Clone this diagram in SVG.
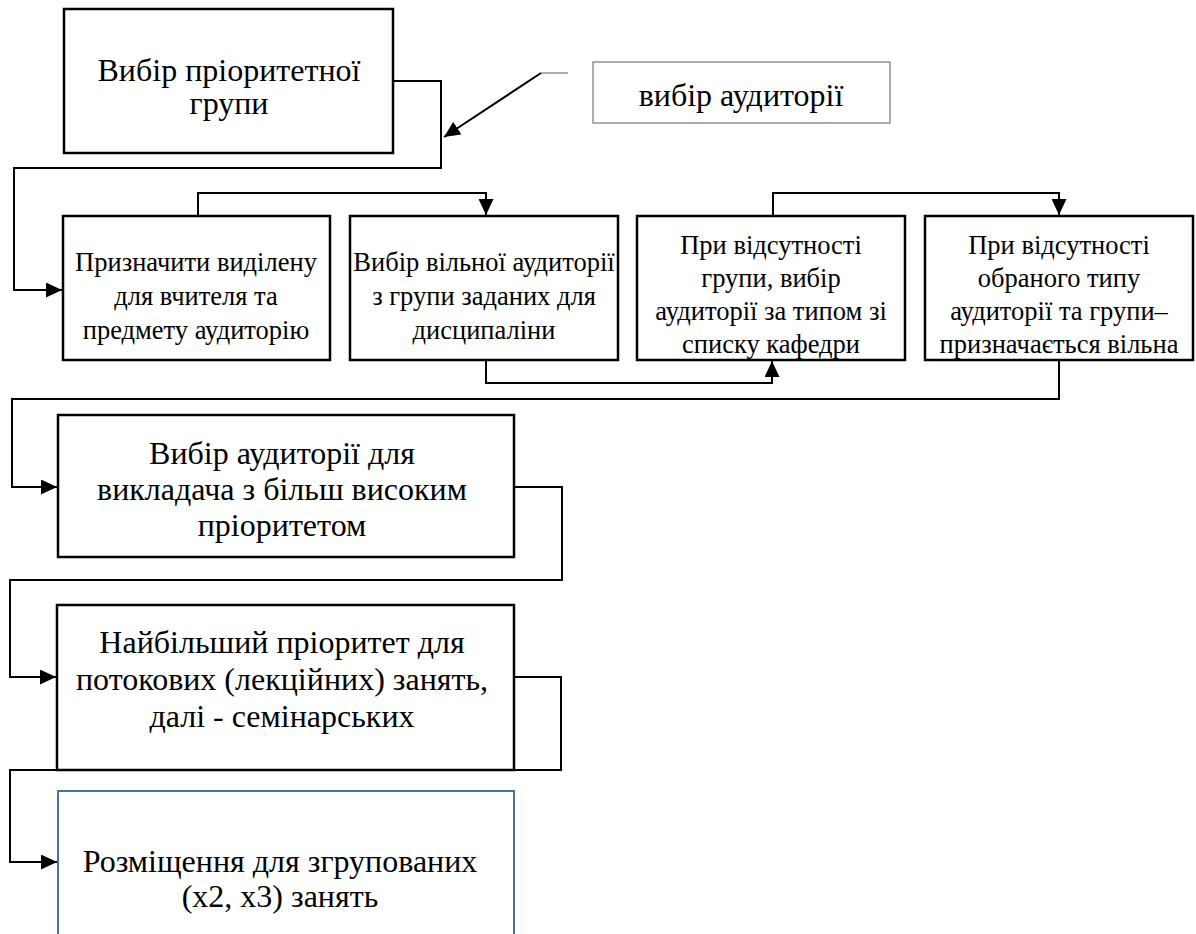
<svg xmlns="http://www.w3.org/2000/svg" width="1196" height="934" viewBox="0 0 1196 934">
<defs>
<marker id="arr" viewBox="0 0 16 15" refX="16" refY="7.5" markerWidth="16" markerHeight="15" markerUnits="userSpaceOnUse" orient="auto">
<path d="M0,0 L16,7.5 L0,15 Z" fill="#000"/>
</marker>
</defs>
<style>
.box{fill:#fff;stroke:#000;stroke-width:2.5}
.thin{fill:#fff;stroke:#808080;stroke-width:1.3}
.blue{fill:#fff;stroke:#4a6ea8;stroke-width:2}
.c{fill:none;stroke:#000;stroke-width:2}
text{fill:#000;text-anchor:middle;font-family:'Liberation Serif','Times New Roman',serif}
.l{font-size:32px}
.s{font-size:26.5px}
</style>
<rect width="1196" height="934" fill="#fff"/>
<g id="connectors">
<path class="c" d="M393,81 H441 V168 H14 V290 H62" marker-end="url(#arr)"/>
<path d="M568,73 H541" fill="none" stroke="#808080" stroke-width="1.3"/>
<path class="c" d="M541,73 L444,137" marker-end="url(#arr)"/>
<path class="c" d="M198,216 V193 H486 V215" marker-end="url(#arr)"/>
<path class="c" d="M486,360 V383 H772 V361" marker-end="url(#arr)"/>
<path class="c" d="M773,216 V193 H1059 V215" marker-end="url(#arr)"/>
<path class="c" d="M1059,360 V399 H12 V487 H57" marker-end="url(#arr)"/>
<path class="c" d="M514,487 H562 V580 H10 V677 H56" marker-end="url(#arr)"/>
<path class="c" d="M514,677 H561 V770 H10 V862 H57" marker-end="url(#arr)"/>
</g>
<g id="n1">
<rect class="box" x="64" y="9" width="329" height="144"/>
<text class="l" x="229" y="81">Вибір пріоритетної</text>
<text class="l" x="229" y="114">групи</text>
</g>
<g id="n2">
<rect class="thin" x="593" y="62" width="297" height="61"/>
<text class="l" x="741" y="106">вибір аудиторії</text>
</g>
<g id="n3">
<rect class="box" x="63" y="216" width="267" height="144"/>
<text class="s" x="196" y="271">Призначити виділену</text>
<text class="s" x="196" y="305">для вчителя та</text>
<text class="s" x="196" y="339">предмету аудиторію</text>
</g>
<g id="n4">
<rect class="box" x="350" y="216" width="268" height="144"/>
<text class="s" x="484" y="271">Вибір вільної аудиторії</text>
<text class="s" x="484" y="305">з групи заданих для</text>
<text class="s" x="484" y="339">дисципаліни</text>
</g>
<g id="n5">
<rect class="box" x="637" y="216" width="268" height="144"/>
<text class="s" x="771" y="254">При відсутності</text>
<text class="s" x="771" y="287">групи, вибір</text>
<text class="s" x="771" y="320">аудиторії за типом зі</text>
<text class="s" x="771" y="353">списку кафедри</text>
</g>
<g id="n6">
<rect class="box" x="925" y="216" width="268" height="144"/>
<text class="s" x="1059" y="254">При відсутності</text>
<text class="s" x="1059" y="287">обраного типу</text>
<text class="s" x="1059" y="320">аудиторії та групи–</text>
<text class="s" x="1059" y="353">призначається вільна</text>
</g>
<g id="n7">
<rect class="box" x="58" y="415" width="456" height="142"/>
<text class="l" x="282" y="464">Вибір аудиторії для</text>
<text class="l" x="282" y="500">викладача з більш високим</text>
<text class="l" x="282" y="536">пріоритетом</text>
</g>
<g id="n8">
<rect class="box" x="57" y="605" width="457" height="165"/>
<text class="l" x="282" y="653">Найбільший пріоритет для</text>
<text class="l" x="282" y="690">потокових (лекційних) занять,</text>
<text class="l" x="282" y="727">далі - семінарських</text>
</g>
<g id="n9">
<rect class="blue" x="58" y="791" width="456" height="150"/>
<text class="l" x="280" y="872">Розміщення для згрупованих</text>
<text class="l" x="280" y="907">(x2, x3) занять</text>
</g>
</svg>
